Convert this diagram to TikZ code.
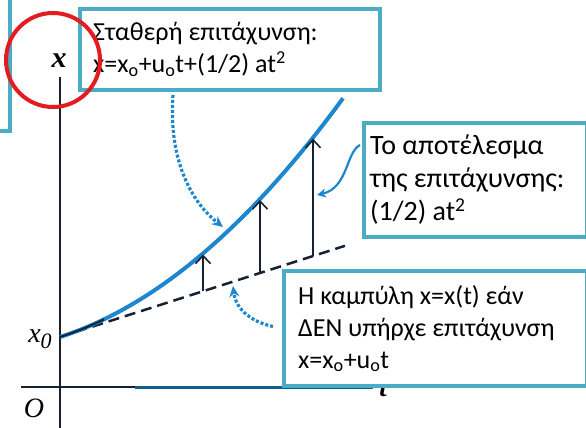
\documentclass[tikz,border=0pt]{standalone}
\usepackage{fontspec}
\setmainfont{Carlito}
\newfontfamily\tms{Liberation Serif}
\usetikzlibrary{arrows.meta,calc}
\definecolor{boxc}{RGB}{75,172,198}
\definecolor{curvec}{RGB}{28,134,206}
\definecolor{axisc}{RGB}{22,34,50}
\definecolor{redc}{RGB}{228,28,32}
\begin{document}
\begin{tikzpicture}[x=1pt,y=-1pt,
  box/.style={draw=boxc, line width=4pt, fill=white, rectangle, inner sep=0pt},
  txt/.style={font=\fontsize{26}{32}\selectfont, align=left, inner sep=0pt, anchor=west},
  lbl/.style={font=\tms\itshape\fontsize{28}{30}\selectfont, inner sep=0pt},
  blbl/.style={font=\tms\bfseries\itshape\fontsize{27}{30}\selectfont, inner sep=0pt},
  riser/.style={draw=axisc, line width=1.6pt, -{Straight Barb[length=8pt,width=15pt,line width=1.6pt]}},
  dotconn/.style={draw=curvec, line width=3.2pt, dash pattern=on 3pt off 2pt, -{Stealth[length=11pt,width=10pt]}},
]
\useasboundingbox (0,0) rectangle (586,428);
\clip (0,0) rectangle (586,428);

% axes
\draw[axisc, line width=2.5pt] (60,77) -- (60,428);
\draw[axisc, line width=2pt] (21,387) -- (373,387);
\draw[curvec!70!black, line width=3pt] (135,387) -- (373,387);
\node[blbl] (tl) at (383,389) {t};

% labels
\node[blbl, font=\tms\bfseries\itshape\fontsize{30}{30}\selectfont] (xl) at (59,61) {x};
\node[lbl] (x0) at (40,339) {x\raisebox{-6pt}{\fontsize{22}{22}\selectfont 0}};
\node[lbl] (ol) at (34,408) {O};

% straight (no acceleration) line
\coordinate (l0) at (60,337);
\coordinate (l1) at (345,245.8);
\draw[axisc, line width=2.5pt, dash pattern=on 11pt off 6pt] (l0) -- (l1);

% curve
\draw[curvec, line width=4pt] plot[domain=60:343, samples=70] (\x,{337-0.32*(\x-60)-18.5*((\x-60)/100)^2});
\draw[axisc, line width=2pt] plot[domain=60:104, samples=15] (\x,{337-0.32*(\x-60)-18.5*((\x-60)/100)^2});

% risers
\coordinate (d1) at (203,291.2);
\coordinate (c1) at (203,254.5);
\coordinate (d2) at (260,273);
\coordinate (c2) at (260,200);
\coordinate (d3) at (313,256);
\coordinate (c3) at (313,138.6);
\draw[riser] (d1) -- (c1);
\draw[riser] (d2) -- (c2);
\draw[riser] (d3) -- (c3);

% boxes
\node[box, minimum width=40pt, minimum height=160pt, anchor=south east] (b0) at (12,133) {};
\node[box, minimum width=300pt, minimum height=81pt, anchor=north west] (b1) at (78,7) {};
\node[box, minimum width=223pt, minimum height=114pt, anchor=north west] (b2) at (362,121) {};
\node[box, minimum width=303pt, minimum height=115pt, anchor=north west] (b3) at (282,269) {};

\node[txt] (t1) at ($(b1.west)+(15,0)$) {Σταθερή επιτάχυνση:\\x=x\textsubscript{o}+u\textsubscript{o}t+(1/2) at\textsuperscript{2}};
\node[txt, font=\fontsize{28}{33}\selectfont] (t2) at ($(b2.west)+(8,0)$) {Το αποτέλεσμα\\της επιτάχυνσης:\\(1/2) at\textsuperscript{2}};
\node[txt] (t3) at ($(b3.west)+(16,0)$) {Η καμπύλη x=x(t) εάν\\ΔΕΝ υπήρχε επιτάχυνση\\x=x\textsubscript{o}+u\textsubscript{o}t};

% connectors
\coordinate (e1) at (223,227);
\coordinate (e2) at (317,195);
\coordinate (e3) at (233,286);
\draw[dotconn] ($(b1.south west)+(95,3)$) .. controls (168,165) and (195,205) .. (e1);
\draw[curvec, line width=2.2pt, -{Stealth[length=9pt,width=9pt]}] ($(b2.west)+(-2,-35)$) .. controls (346,152) and (348,188) .. (e2);
\draw[dotconn] ($(b3.west)+(-9,-2)$) .. controls (252,322) and (236,310) .. (e3);

% red circle
\node[draw=redc, line width=4pt, circle, minimum size=94pt, inner sep=0pt] (rc) at (53,60) {};
\end{tikzpicture}
\end{document}
